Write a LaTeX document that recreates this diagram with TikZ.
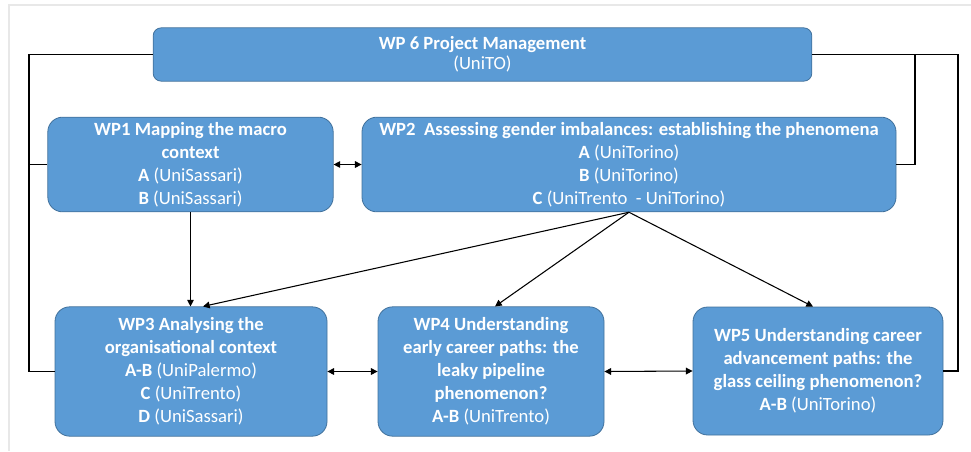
\documentclass[tikz,border=0pt]{standalone}
\usepackage{fontspec}
\setmainfont{Carlito}
\usetikzlibrary{positioning, calc, arrows.meta}
\definecolor{wpfill}{HTML}{5B9BD5}
\definecolor{wpline}{HTML}{41719C}
\tikzset{
    wp node/.style={rectangle, rounded corners=11pt, draw=wpline, line width=0.6pt, fill=wpfill, text=white, align=center, inner sep=2pt, font=\fontsize{14}{17.3}\selectfont},
    top node/.style={wp node, rounded corners=6pt, font=\fontsize{14}{15}\selectfont},
    link/.style={draw=black, line width=0.8pt},
    frame line/.style={draw=black!9, line width=1.6pt},
}

\begin{document}
\begin{tikzpicture}[x=0.75pt, y=-0.75pt, >={Triangle[length=5pt, width=5pt]}]
            \useasboundingbox (0,0) rectangle (971,451);
            \draw[frame line] (9,451) -- (9,5) -- (971,5);
            % work packages
            \node[top node, minimum width=494pt, minimum height=40pt] (wp6) at (482.5,54.5)
                {\textbf{WP 6 Project Management}\\(UniTO)};
            \node[wp node, minimum width=214pt, minimum height=71pt] (wp1) at (190.5,164.5)
                {\textbf{WP1 Mapping the macro}\\\textbf{context}\\\textbf{A} (UniSassari)\\\textbf{B} (UniSassari)};
            \node[wp node, minimum width=400.5pt, minimum height=71pt] (wp2) at (629,164.5)
                {\textbf{WP2\ \ Assessing gender imbalances: establishing the phenomena}\\\textbf{A} (UniTorino)\\\textbf{B} (UniTorino)\\\textbf{C} (UniTrento\ \ - UniTorino)};
            \node[wp node, minimum width=204pt, minimum height=97pt] (wp3) at (191,371.5)
                {\textbf{WP3 Analysing the}\\\textbf{organisational context}\\\textbf{A-B} (UniPalermo)\\\textbf{C} (UniTrento)\\\textbf{D} (UniSassari)};
            \node[wp node, minimum width=169.5pt, minimum height=97pt] (wp4) at (491,371.5)
                {\textbf{WP4 Understanding}\\\textbf{early career paths: the}\\\textbf{leaky pipeline}\\\textbf{phenomenon?}\\\textbf{A-B} (UniTrento)};
            \node[wp node, minimum width=187.5pt, minimum height=96pt] (wp5) at (818,371)
                {\textbf{WP5 Understanding career}\\\textbf{advancement paths: the}\\\textbf{glass ceiling phenomenon?}\\\textbf{A-B} (UniTorino)};
            % management buses
            \coordinate (left bus) at (29,0);
            \coordinate (right bus) at (958,0);
            \coordinate (mid bus) at (915,0);
            \draw[link] (wp6.west) -| (left bus |- wp3.west) -- (wp3.west);
            \draw[link] (wp1.west) -- (wp1.west -| left bus);
            \draw[link] (wp6.east) -| (right bus |- wp5.east) -- (wp5.east);
            \draw[link] (wp2.east) -| (mid bus |- wp6.east);
            % flows
            \draw[link, <->] (wp1.east) -- (wp2.west);
            \draw[link, ->] (wp1.south) -- (wp1.south |- wp3.north);
            \draw[link, ->] (wp2.south) -- ($(wp3.north)+(12,0)$);
            \draw[link, ->] (wp2.south) -- ($(wp4.north)+(4,0)$);
            \draw[link, ->] (wp2.south) -- ($(wp5.north)+(-5,0)$);
            \draw[link, <->] (wp3.east) -- (wp4.west);
            \draw[link, <->] (wp4.east) -- (wp5.west);
        \end{tikzpicture}
\end{document}
